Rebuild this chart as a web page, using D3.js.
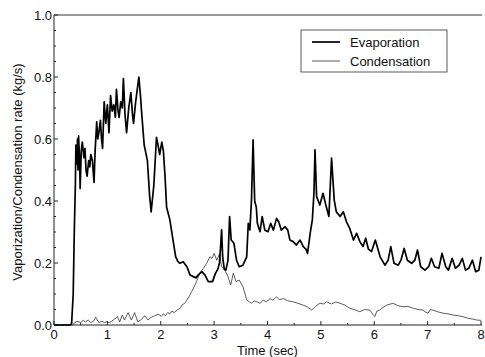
<!DOCTYPE html>
<head>
<meta charset="utf-8">
<style>
body { margin: 0; background: #fff; }
text { font-family: "Liberation Sans", Arial, sans-serif; font-size: 13px; fill: #111; }
.evap { fill: none; stroke: #000; stroke-width: 1.7; stroke-linejoin: round; }
.cond { fill: none; stroke: #333; stroke-width: 0.8; stroke-linejoin: round; }
</style>
</head>
<body>
<svg width="485" height="357"></svg>
<script src="https://d3js.org/d3.v7.min.js"></script>
<script>
// values
var evapTime = [0, 0.30, 0.33, 0.36, 0.38, 0.40, 0.41, 0.43, 0.44, 0.45, 0.46, 0.48, 0.49, 0.51, 0.53, 0.56, 0.58, 0.60,
  0.62, 0.65, 0.67, 0.69, 0.72, 0.75, 0.77, 0.80, 0.82, 0.84, 0.87, 0.89, 0.91, 0.94, 0.97, 1.00, 1.03, 1.06, 1.09,
  1.12, 1.15, 1.17, 1.20, 1.22, 1.25, 1.28, 1.30, 1.33, 1.36, 1.40, 1.44, 1.47, 1.49, 1.53, 1.56, 1.59, 1.62, 1.64,
  1.69, 1.75, 1.79, 1.82, 1.87, 1.92, 1.95, 1.98, 2.02, 2.05, 2.08, 2.11, 2.17, 2.23, 2.28, 2.32, 2.36, 2.42, 2.49,
  2.55, 2.61, 2.66, 2.70, 2.77, 2.83, 2.89, 2.97, 3.02, 3.07, 3.10, 3.12, 3.14, 3.16, 3.19, 3.22, 3.26, 3.29, 3.32,
  3.37, 3.42, 3.47, 3.54, 3.61, 3.64, 3.67, 3.70, 3.73, 3.76, 3.79, 3.81, 3.86, 3.90, 3.95, 4.01, 4.06, 4.11, 4.17,
  4.21, 4.26, 4.33, 4.38, 4.42, 4.48, 4.54, 4.61, 4.67, 4.72, 4.75, 4.80, 4.84, 4.87, 4.89, 4.92, 4.98, 5.04, 5.10,
  5.15, 5.20, 5.25, 5.29, 5.36, 5.42, 5.48, 5.54, 5.61, 5.67, 5.73, 5.79, 5.84, 5.89, 5.95, 6.02, 6.11, 6.20, 6.26,
  6.31, 6.37, 6.45, 6.50, 6.56, 6.62, 6.70, 6.76, 6.81, 6.87, 6.95, 7.02, 7.07, 7.13, 7.21, 7.27, 7.34, 7.39, 7.46,
  7.52, 7.59, 7.65, 7.71, 7.77, 7.84, 7.90, 7.96, 8.00];
var evapRate = [0, 0, 0.005, 0.10, 0.30, 0.45, 0.58, 0.52, 0.60, 0.50, 0.61, 0.53, 0.44, 0.56, 0.59, 0.54, 0.57, 0.50,
  0.48, 0.53, 0.51, 0.55, 0.53, 0.46, 0.56, 0.655, 0.60, 0.62, 0.66, 0.60, 0.57, 0.72, 0.65, 0.71, 0.62, 0.74, 0.69,
  0.71, 0.67, 0.76, 0.69, 0.67, 0.72, 0.70, 0.795, 0.68, 0.62, 0.70, 0.75, 0.68, 0.65, 0.72, 0.76, 0.80, 0.74, 0.69,
  0.58, 0.53, 0.42, 0.365, 0.45, 0.605, 0.58, 0.55, 0.59, 0.56, 0.48, 0.38, 0.34, 0.274, 0.22, 0.205, 0.199, 0.204, 0.188,
  0.161, 0.156, 0.152, 0.161, 0.172, 0.161, 0.14, 0.14, 0.165, 0.18, 0.20, 0.25, 0.307, 0.22, 0.18, 0.177, 0.209, 0.35, 0.274,
  0.264, 0.209, 0.188, 0.193, 0.22, 0.328, 0.307, 0.403, 0.597, 0.40, 0.38, 0.328, 0.301, 0.35, 0.306, 0.301, 0.328, 0.306, 0.344,
  0.333, 0.306, 0.317, 0.306, 0.274, 0.269, 0.258, 0.274, 0.253, 0.245, 0.231, 0.296, 0.339, 0.425, 0.565, 0.414, 0.387, 0.425, 0.382,
  0.35, 0.538, 0.403, 0.365, 0.35, 0.365, 0.333, 0.312, 0.274, 0.296, 0.269, 0.253, 0.28, 0.245, 0.237, 0.274, 0.22, 0.193, 0.209,
  0.253, 0.199, 0.193, 0.209, 0.247, 0.209, 0.199, 0.209, 0.242, 0.188, 0.177, 0.188, 0.215, 0.188, 0.183, 0.231, 0.188, 0.177, 0.215,
  0.183, 0.193, 0.215, 0.177, 0.183, 0.209, 0.172, 0.177, 0.22];

var condTime = [0, 0.35, 0.37, 0.43, 0.50, 0.55, 0.59, 0.64, 0.69, 0.74, 0.78, 0.84, 0.90, 0.94, 1.00, 1.03, 1.08, 1.11,
  1.19, 1.23, 1.28, 1.32, 1.39, 1.45, 1.51, 1.57, 1.64, 1.70, 1.76, 1.82, 1.89, 1.95, 2.01, 2.05, 2.09, 2.13, 2.17,
  2.21, 2.25, 2.32, 2.36, 2.40, 2.45, 2.49, 2.54, 2.58, 2.63, 2.67, 2.73, 2.80, 2.86, 2.92, 2.96, 3.00, 3.05, 3.10,
  3.14, 3.20, 3.26, 3.31, 3.36, 3.41, 3.47, 3.54, 3.58, 3.61, 3.66, 3.70, 3.75, 3.80, 3.86, 3.92, 3.98, 4.05, 4.10,
  4.17, 4.22, 4.30, 4.38, 4.48, 4.57, 4.67, 4.75, 4.83, 4.90, 4.98, 5.05, 5.11, 5.20, 5.28, 5.36, 5.45, 5.54, 5.62,
  5.73, 5.82, 5.92, 5.97, 6.01, 6.05, 6.10, 6.16, 6.23, 6.35, 6.45, 6.54, 6.63, 6.73, 6.82, 6.91, 6.96, 7.01, 7.05,
  7.10, 7.20, 7.29, 7.38, 7.48, 7.57, 7.66, 7.75, 7.85, 7.92, 8.00];
var condRate = [0, 0, 0.005, 0.012, 0.008, 0.015, 0.010, 0.016, 0.008, 0.012, 0.025, 0.008, 0.012, 0.008, 0.011, 0.007, 0.012, 0.016,
  0.027, 0.010, 0.032, 0.016, 0.040, 0.016, 0.040, 0.010, 0.018, 0.030, 0.016, 0.025, 0.030, 0.035, 0.028, 0.036, 0.030, 0.040, 0.036,
  0.045, 0.040, 0.050, 0.053, 0.065, 0.070, 0.080, 0.095, 0.108, 0.125, 0.140, 0.167, 0.183, 0.199, 0.220, 0.215, 0.231, 0.209, 0.229,
  0.188, 0.177, 0.156, 0.129, 0.167, 0.140, 0.145, 0.124, 0.100, 0.081, 0.075, 0.070, 0.078, 0.075, 0.070, 0.080, 0.075, 0.085, 0.080,
  0.091, 0.082, 0.085, 0.078, 0.075, 0.070, 0.064, 0.058, 0.048, 0.060, 0.070, 0.068, 0.075, 0.068, 0.074, 0.070, 0.064, 0.054, 0.050,
  0.043, 0.050, 0.048, 0.035, 0.027, 0.045, 0.048, 0.056, 0.064, 0.070, 0.062, 0.059, 0.060, 0.054, 0.050, 0.048, 0.042, 0.038, 0.050,
  0.048, 0.042, 0.038, 0.036, 0.032, 0.030, 0.027, 0.022, 0.019, 0.016, 0.015];

var xTicks = [0, 1, 2, 3, 4, 5, 6, 7, 8];
var yTicks = [0.0, 0.2, 0.4, 0.6, 0.8, 1.0];
var seriesNames = ["Evaporation", "Condensation"];
var xTitle = "Time (sec)";
var yTitle = "Vaporization/Condensation rate (kg/s)";

var svg = d3.select("svg"),
    pLeft = 54, pRight = 481, pTop = 15, pBottom = 325;

var x = d3.scaleLinear().domain([0, 8]).range([pLeft, pRight]);
var y = d3.scaleLinear().domain([0, 1]).range([pBottom, pTop]);

// frame: left, bottom, top line (no right edge in the scan)
svg.append("line").attr("x1", pLeft).attr("x2", pLeft).attr("y1", pTop).attr("y2", pBottom)
    .attr("stroke", "#222").attr("stroke-width", 1);
svg.append("line").attr("x1", pLeft).attr("x2", pRight + 1).attr("y1", pBottom).attr("y2", pBottom)
    .attr("stroke", "#222").attr("stroke-width", 1);
svg.append("line").attr("x1", pLeft).attr("x2", pRight + 1).attr("y1", pTop).attr("y2", pTop)
    .attr("stroke", "#333").attr("stroke-width", 1);

// y ticks point inward
svg.selectAll(".ymin").data(d3.range(0, 1.001, 0.05)).enter().append("line")
    .attr("x1", pLeft).attr("x2", function(d) { return Math.round(d * 20) % 4 === 0 ? pLeft + 4 : pLeft + 2; })
    .attr("y1", y).attr("y2", y).attr("stroke", "#222");
svg.selectAll(".ylab").data(yTicks).enter().append("text")
    .attr("x", pLeft - 2).attr("y", y).attr("dy", "0.35em")
    .attr("text-anchor", "end")
    .text(function(d) { return d.toFixed(1); });

svg.selectAll(".xmin").data(d3.range(0, 8.001, 0.5)).enter().append("line")
    .attr("x1", x).attr("x2", x).attr("y1", pBottom)
    .attr("y2", function(d) { return d % 1 === 0 ? pBottom - 4 : pBottom - 2; })
    .attr("stroke", "#222");
svg.selectAll(".xlab").data(xTicks).enter().append("text")
    .attr("x", x).attr("y", pBottom + 14)
    .attr("text-anchor", "middle")
    .text(function(d) { return d; });

svg.append("text").attr("x", (pLeft + pRight) / 2).attr("y", 355)
    .attr("text-anchor", "middle").text(xTitle);
svg.append("text").attr("transform", "translate(22," + ((pTop + pBottom) / 2 + 2) + ") rotate(-90)")
    .attr("text-anchor", "middle").text(yTitle);

var line = d3.line().x(function(d) { return x(d[0]); }).y(function(d) { return y(d[1]); });

svg.append("path").attr("class", "cond")
    .attr("d", line(d3.zip(condTime, condRate)));
svg.append("path").attr("class", "evap")
    .attr("d", line(d3.zip(evapTime, evapRate)));

// legend
var lg = svg.append("g").attr("transform", "translate(301,30)");
lg.append("rect").attr("width", 146).attr("height", 42)
    .attr("fill", "#fff").attr("stroke", "#333").attr("stroke-width", 0.8);
seriesNames.forEach(function(name, i) {
  lg.append("line").attr("x1", 11).attr("x2", 39).attr("y1", 12 + i * 19).attr("y2", 12 + i * 19)
      .attr("class", i === 0 ? "evap" : "cond");
  lg.append("text").attr("x", 49).attr("y", 12 + i * 19).attr("dy", "0.35em").text(name);
});
</script>
</body>
